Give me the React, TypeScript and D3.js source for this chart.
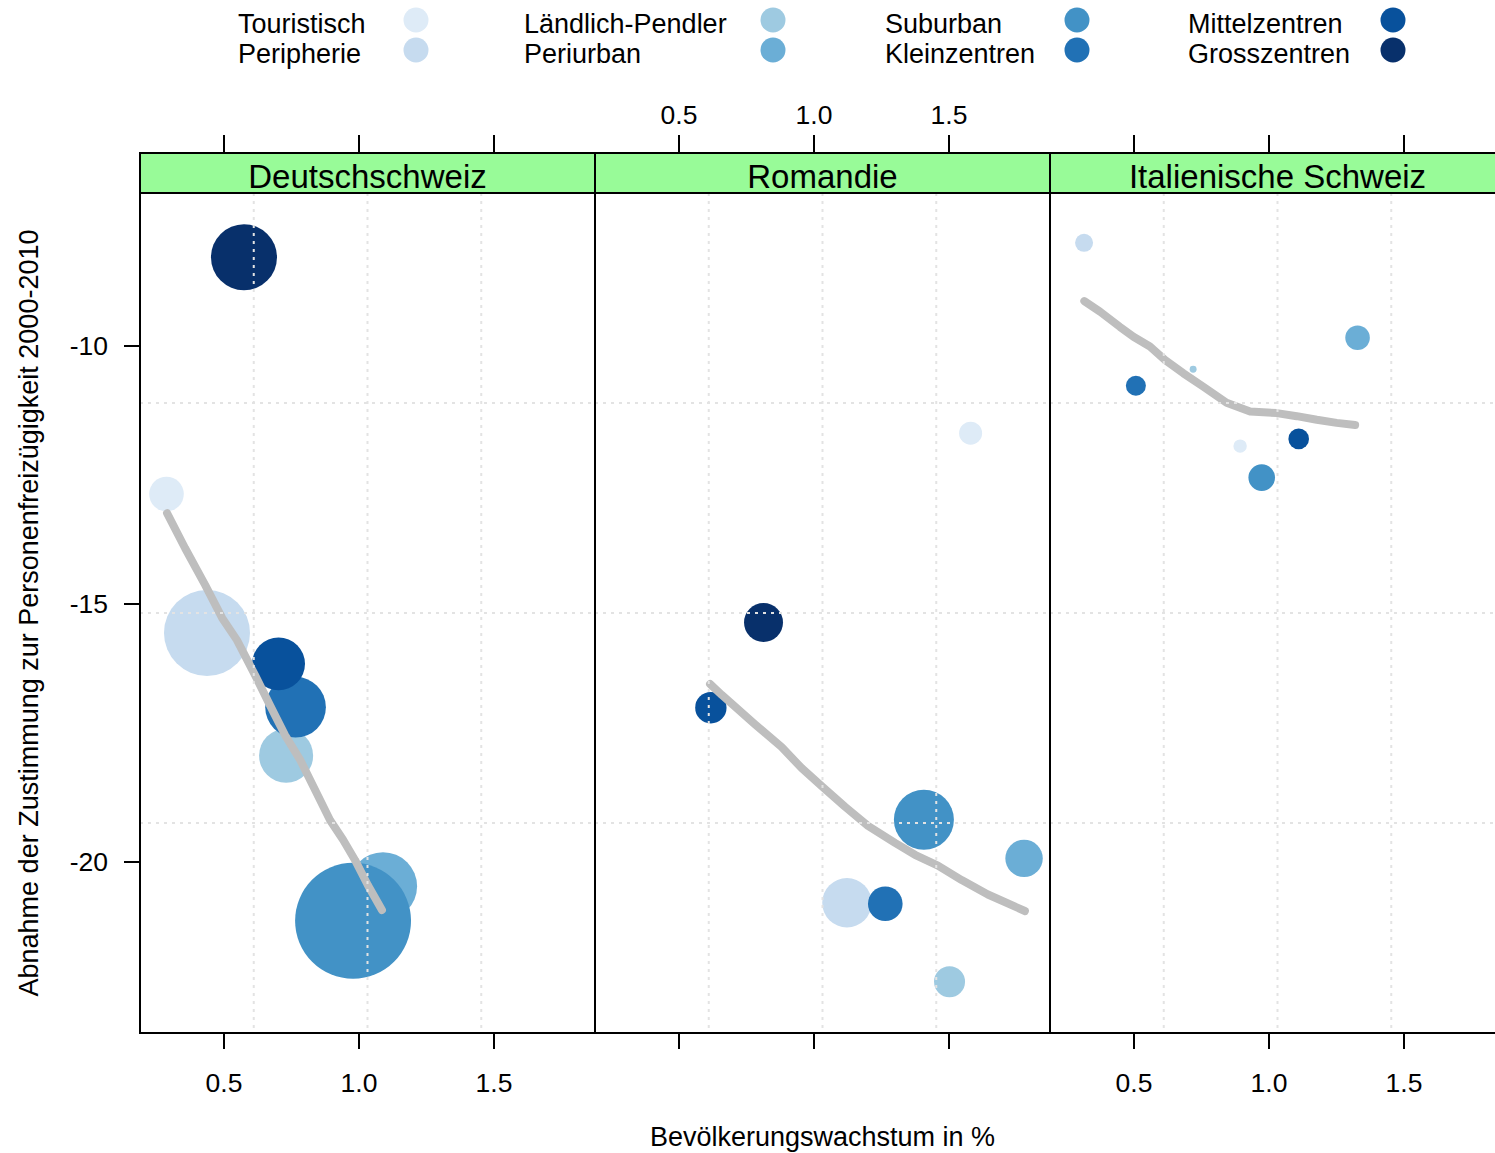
import React from "react";
import * as d3 from "d3";

// ---------- data ----------
const categories = [
  "Touristisch", "Peripherie", "Ländlich-Pendler", "Periurban",
  "Suburban", "Kleinzentren", "Mittelzentren", "Grosszentren",
];
const palette = ["#DEEBF7", "#C6DBEF", "#9ECAE1", "#6BAED6", "#4292C6", "#2171B5", "#08519C", "#08306B"];
const regions = ["Deutschschweiz", "Romandie", "Italienische Schweiz"];

// Bevölkerungswachstum in % (x), Abnahme der Zustimmung (y), Gewicht (Blasengrösse)
const growthDE = [0.287, 0.437, 0.730, 1.089, 0.978, 0.765, 0.702, 0.574];
const changeDE = [-12.87, -15.56, -17.94, -20.47, -21.14, -17.0, -16.16, -8.28];
const weightDE = [3.0, 18.5, 7.3, 11.6, 33.6, 9.2, 7.0, 10.9];

const growthRO = [1.580, 1.122, 1.502, 1.778, 1.407, 1.264, 0.618, 0.813];
const changeRO = [-11.69, -20.79, -22.32, -19.93, -19.18, -20.81, -17.01, -15.36];
const weightRO = [1.32, 6.1, 2.4, 3.5, 9.0, 3.0, 2.46, 3.8];

const growthTI = [0.893, 0.315, 0.719, 1.328, 0.973, 0.507, 1.110, null];
const changeTI = [-11.94, -8.0, -10.45, -9.84, -12.55, -10.77, -11.80, null];
const weightTI = [0.45, 0.81, 0.12, 1.51, 1.77, 1.0, 1.06, null];

// loess-Glättung
const smoothXDE = [0.289, 0.356, 0.430, 0.493, 0.548, 0.615, 0.670, 0.726, 0.782, 0.837, 0.893, 0.941, 0.985, 1.033, 1.085];
const smoothYDE = [-13.24, -13.92, -14.63, -15.27, -15.70, -16.38, -16.96, -17.54, -18.02, -18.60, -19.19, -19.57, -19.96, -20.45, -20.93];
const smoothXRO = [0.615, 0.658, 0.781, 0.880, 0.954, 1.029, 1.115, 1.200, 1.300, 1.374, 1.459, 1.547, 1.644, 1.781];
const smoothYRO = [-16.55, -16.76, -17.33, -17.77, -18.18, -18.53, -18.93, -19.30, -19.63, -19.86, -20.07, -20.35, -20.63, -20.95];
const smoothXTI = [0.316, 0.374, 0.448, 0.498, 0.559, 0.615, 0.683, 0.757, 0.843, 0.930, 1.029, 1.103, 1.177, 1.251, 1.319];
const smoothYTI = [-9.13, -9.335, -9.63, -9.82, -10.01, -10.27, -10.53, -10.79, -11.10, -11.27, -11.30, -11.36, -11.43, -11.49, -11.53];

const xTicks = [0.5, 1.0, 1.5];
const yTicks = [-10, -15, -20];
const xDomain = [0.18889, 1.87407];
const yDomain = [-23.314, -7.0349];

const FONT = "'Liberation Sans', Arial, Helvetica, sans-serif";

export default function App() {
  const W = 1495, H = 1153;
  const left = 140, pw = 455, top = 193, bottom = 1033, stripH = 40;
  const stripTop = top - stripH;
  const tickLen = 16;

  const x = d3.scaleLinear().domain(xDomain).range([0, pw]);
  const y = d3.scaleLinear().domain(yDomain).range([bottom, top]);
  const r = d3.scaleSqrt().domain([0, 1]).range([0, 10]);
  const line = d3.line<[number, number]>().x((d) => x(d[0])).y((d) => y(d[1]));

  const panels = [
    { name: regions[0], g: growthDE, c: changeDE, w: weightDE, sx: smoothXDE, sy: smoothYDE },
    { name: regions[1], g: growthRO, c: changeRO, w: weightRO, sx: smoothXRO, sy: smoothYRO },
    { name: regions[2], g: growthTI, c: changeTI, w: weightTI, sx: smoothXTI, sy: smoothYTI },
  ];

  const gridX = d3.range(1, 4).map((i) => xDomain[0] + (i * (xDomain[1] - xDomain[0])) / 4);
  const gridY = d3.range(1, 4).map((i) => yDomain[0] + (i * (yDomain[1] - yDomain[0])) / 4);

  const legendTextX = [238, 524, 885, 1188];
  const legendDotX = [416, 773, 1077, 1393];
  const legendBase = [33, 63];
  const legendDotY = [20, 50];

  return (
    <svg
      width={W}
      height={H}
      style={{ position: "absolute", left: 0, top: 0, background: "#fff" }}
      fontFamily={FONT}
    >
      <rect x={0} y={0} width={W} height={H} fill="#fff" />
      {/* legend */}
      {categories.map((cat, i) => {
        const col = Math.floor(i / 2);
        const row = i % 2;
        return (
          <g key={cat}>
            <text x={legendTextX[col]} y={legendBase[row]} fontSize={27} fill="#000">
              {cat}
            </text>
            <circle cx={legendDotX[col]} cy={legendDotY[row]} r={12.5} fill={palette[i]} />
          </g>
        );
      })}

      {panels.map((p, pi) => {
        const ox = left + pi * pw;
        const pts = categories
          .map((cat, i) => ({ cat, i, g: p.g[i], c: p.c[i], w: p.w[i] }))
          .filter((d) => d.g != null);
        const smooth: [number, number][] = p.sx.map((v, k) => [v, p.sy[k]]);
        return (
          <g key={p.name}>
            {/* strip */}
            <rect x={ox} y={stripTop} width={pw} height={stripH} fill="#98FB98" stroke="#000" strokeWidth={2} />
            <text x={ox + pw / 2} y={stripTop + 35} textAnchor="middle" fontSize={33} fill="#000">
              {p.name}
            </text>
            <g transform={`translate(${ox},0)`}>
              {/* points */}
              {pts.map((d) => (
                <circle key={d.cat} cx={x(d.g as number)} cy={y(d.c as number)} r={r(d.w as number)} fill={palette[d.i]} />
              ))}
              {/* smoother */}
              <path d={line(smooth) || ""} fill="none" stroke="#BEBEBE" strokeWidth={8} strokeLinecap="round" strokeLinejoin="round" />
              {/* grid */}
              {gridX.map((gv) => (
                <line key={"gx" + gv} x1={x(gv)} x2={x(gv)} y1={top} y2={bottom} stroke="#E3E3E3" strokeWidth={2} strokeDasharray="3,5" />
              ))}
              {gridY.map((gv) => (
                <line key={"gy" + gv} x1={0} x2={pw} y1={y(gv)} y2={y(gv)} stroke="#E3E3E3" strokeWidth={2} strokeDasharray="3,5" />
              ))}
              {/* ticks */}
              {xTicks.map((t) => (
                <g key={"t" + t}>
                  <line x1={x(t)} x2={x(t)} y1={bottom} y2={bottom + tickLen} stroke="#000" strokeWidth={2} />
                  <line x1={x(t)} x2={x(t)} y1={stripTop} y2={stripTop - tickLen - 2} stroke="#000" strokeWidth={2} />
                  {pi !== 1 && (
                    <text x={x(t)} y={1092} textAnchor="middle" fontSize={26.5} fill="#000">
                      {t.toFixed(1)}
                    </text>
                  )}
                  {pi === 1 && (
                    <text x={x(t)} y={124} textAnchor="middle" fontSize={26.5} fill="#000">
                      {t.toFixed(1)}
                    </text>
                  )}
                </g>
              ))}
            </g>
            {/* panel frame */}
            <rect x={ox} y={top} width={pw} height={bottom - top} fill="none" stroke="#000" strokeWidth={2} />
          </g>
        );
      })}

      {/* y axis */}
      {yTicks.map((t) => (
        <g key={"y" + t}>
          <line x1={left - tickLen} x2={left} y1={y(t)} y2={y(t)} stroke="#000" strokeWidth={2} />
          <text x={108} y={y(t) + 9.5} textAnchor="end" fontSize={26.5} fill="#000">
            {String(t)}
          </text>
        </g>
      ))}

      {/* axis titles */}
      <text x={left + (3 * pw) / 2 - 0} y={1146} textAnchor="middle" fontSize={27} fill="#000">
        Bevölkerungswachstum in %
      </text>
      <text
        transform={`translate(38,${(top + bottom) / 2}) rotate(-90)`}
        textAnchor="middle"
        fontSize={27}
        fill="#000"
      >
        Abnahme der Zustimmung zur Personenfreizügigkeit 2000-2010
      </text>
    </svg>
  );
}
